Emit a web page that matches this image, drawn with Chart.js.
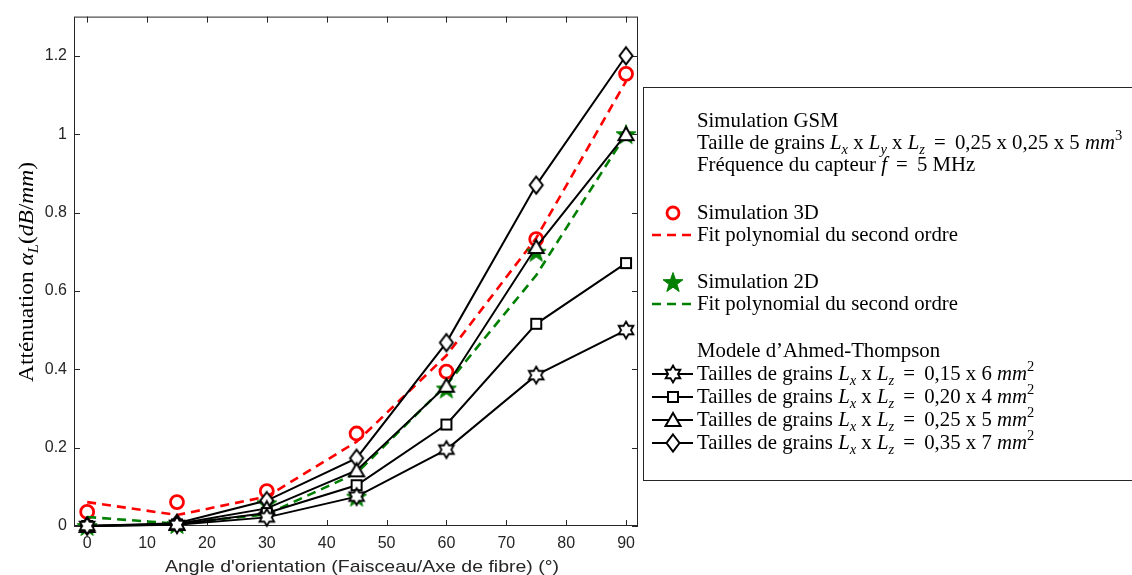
<!DOCTYPE html>
<html>
<head>
<meta charset="utf-8">
<script src="https://cdn.jsdelivr.net/npm/chart.js@4.4.1/dist/chart.umd.min.js"></script>
<style>
  html, body { margin: 0; padding: 0; background: #fff; }
  #wrap { width: 1132px; height: 575px; position: relative; }
</style>
</head>
<body>
<div id="wrap"><canvas id="chart" width="1132" height="575"></canvas></div>
<script>
// angles (degrees)
const angles = [0, 15, 30, 45, 60, 75, 90];
const xTicks = [0, 10, 20, 30, 40, 50, 60, 70, 80, 90];
const yTicks = [0, 0.2, 0.4, 0.6, 0.8, 1, 1.2];

// GSM simulations + fits
const sim3D = [0.036, 0.061, 0.089, 0.236, 0.394, 0.732, 1.154];
const fit3D = [0.061, 0.028, 0.075, 0.215, 0.435, 0.735, 1.135];
const sim2D = [0.000, 0.005, 0.058, 0.075, 0.351, 0.700, 1.000];
const fit2D = [0.023, 0.006, 0.030, 0.135, 0.360, 0.640, 1.000];

// Ahmed-Thompson model
const at015x6 = [0, 0.003, 0.022, 0.075, 0.195, 0.385, 0.500];
const at020x4 = [0, 0.004, 0.033, 0.104, 0.259, 0.516, 0.671];
const at025x5 = [0, 0.005, 0.045, 0.142, 0.358, 0.712, 1.000];
const at035x7 = [0, 0.007, 0.065, 0.173, 0.468, 0.870, 1.200];

const RED = '#ff0000';
const GREEN = '#008000';
const AXIS = '#262626';
const SERIF = '"Liberation Serif", "DejaVu Serif", serif';
const SANS = '"Liberation Sans", Arial, sans-serif';

function pts(ys) {
  return angles.map((a, i) => ({ x: a, y: ys[i] }));
}

// small canvases used as marker images
function marker(w, h, draw) {
  const c = document.createElement('canvas');
  c.width = w; c.height = h;
  const g = c.getContext('2d');
  draw(g, w / 2, h / 2);
  return c;
}
function starPath(g, cx, cy, n, ro, ri) {
  g.beginPath();
  for (let i = 0; i < 2 * n; i++) {
    const r = i % 2 ? ri : ro;
    const a = -Math.PI / 2 + i * Math.PI / n;
    const px = cx + r * Math.cos(a), py = cy + r * Math.sin(a);
    if (i === 0) g.moveTo(px, py); else g.lineTo(px, py);
  }
  g.closePath();
}

const pentagram = marker(24, 24, (g, cx, cy) => {
  starPath(g, cx, cy + 1, 5, 10.5, 4.2);
  g.fillStyle = GREEN; g.fill();
  g.strokeStyle = GREEN; g.lineWidth = 1; g.stroke();
});
const hexagram = marker(22, 22, (g, cx, cy) => {
  starPath(g, cx, cy, 6, 8.5, 4.9);
  g.fillStyle = '#fff'; g.fill();
  g.strokeStyle = '#000'; g.lineWidth = 1.8; g.stroke();
});
const square = marker(16, 16, (g, cx, cy) => {
  g.fillStyle = '#fff'; g.fillRect(cx - 5, cy - 5, 10, 10);
  g.strokeStyle = '#000'; g.lineWidth = 2; g.strokeRect(cx - 5, cy - 5, 10, 10);
});
const triangle = marker(20, 18, (g, cx, cy) => {
  g.beginPath();
  g.moveTo(cx, cy - 7); g.lineTo(cx + 7.5, cy + 6); g.lineTo(cx - 7.5, cy + 6); g.closePath();
  g.fillStyle = '#fff'; g.fill();
  g.strokeStyle = '#000'; g.lineWidth = 2; g.lineJoin = 'miter'; g.stroke();
});
const diamond = marker(18, 22, (g, cx, cy) => {
  g.beginPath();
  g.moveTo(cx, cy - 8.5); g.lineTo(cx + 6.5, cy); g.lineTo(cx, cy + 8.5); g.lineTo(cx - 6.5, cy); g.closePath();
  g.fillStyle = '#fff'; g.fill();
  g.strokeStyle = '#000'; g.lineWidth = 2; g.stroke();
});

function blackSeries(label, ys, img) {
  return {
    label, data: pts(ys), borderColor: '#000', borderWidth: 2,
    pointStyle: img, pointRadius: 7, tension: 0, clip: false
  };
}

// draw a line of text made of parts: plain / italic / sub / sup / gap
function rich(ctx, x, y, parts, fs) {
  for (const p of parts) {
    const s = typeof p === 'string' ? { t: p } : p;
    if (s.gap) { x += s.gap; continue; }
    let size = fs, dy = 0;
    if (s.sub) { size = fs * 0.7; dy = fs * 0.22; }
    if (s.sup) { size = fs * 0.7; dy = -fs * 0.42; }
    ctx.font = (s.it ? 'italic ' : '') + size + 'px ' + SERIF;
    ctx.fillText(s.t, x, y + dy);
    x += ctx.measureText(s.t).width;
  }
  return x;
}
function richWidth(ctx, parts, fs) {
  let w = 0;
  for (const p of parts) {
    const s = typeof p === 'string' ? { t: p } : p;
    if (s.gap) { w += s.gap; continue; }
    const size = (s.sub || s.sup) ? fs * 0.7 : fs;
    ctx.font = (s.it ? 'italic ' : '') + size + 'px ' + SERIF;
    w += ctx.measureText(s.t).width;
  }
  return w;
}

const Lx = [{ t: 'L', it: true }, { t: 'x', it: true, sub: true }];
const Ly = [{ t: 'L', it: true }, { t: 'y', it: true, sub: true }];
const Lz = [{ t: 'L', it: true }, { t: 'z', it: true, sub: true }];
const EQ = [{ gap: 4 }, ' = ', { gap: 4 }];
function grains(dims) {
  return ['Tailles de grains ', ...Lx, ' x ', ...Lz, ...EQ, dims + ' ', { t: 'mm', it: true }, { t: '2', sup: true }];
}

const legendRows = [
  { y: 127, parts: ['Simulation GSM'] },
  { y: 149, parts: ['Taille de grains ', ...Lx, ' x ', ...Ly, ' x ', ...Lz, ...EQ, '0,25 x 0,25 x 5 ', { t: 'mm', it: true }, { t: '3', sup: true }] },
  { y: 171, parts: ['Fréquence du capteur ', { t: 'f', it: true }, ...EQ, '5 MHz'] },
  { y: 219, parts: ['Simulation 3D'], mark: 'circle' },
  { y: 241, parts: ['Fit polynomial du second ordre'], dash: RED },
  { y: 288, parts: ['Simulation 2D'], img: pentagram },
  { y: 310, parts: ['Fit polynomial du second ordre'], dash: GREEN },
  { y: 357, parts: ['Modele d\u2019Ahmed-Thompson'] },
  { y: 380, parts: grains('0,15 x 6'), img: hexagram, line: true },
  { y: 403, parts: grains('0,20 x 4'), img: square, line: true },
  { y: 426, parts: grains('0,25 x 5'), img: triangle, line: true },
  { y: 449, parts: grains('0,35 x 7'), img: diamond, line: true }
];

const decor = {
  id: 'decor',
  beforeDatasetsDraw(chart) {
    const { ctx, chartArea: a, scales: { x, y } } = chart;
    ctx.save();
    ctx.strokeStyle = AXIS;
    ctx.lineWidth = 1;
    ctx.strokeRect(a.left + 0.5, a.top + 0.5, a.right - a.left - 1, a.bottom - a.top - 1);
    ctx.beginPath();
    xTicks.forEach(v => {
      const px = Math.round(x.getPixelForValue(v)) + 0.5;
      ctx.moveTo(px, a.bottom); ctx.lineTo(px, a.bottom - 6);
      ctx.moveTo(px, a.top); ctx.lineTo(px, a.top + 6);
    });
    yTicks.forEach(v => {
      const py = Math.round(y.getPixelForValue(v)) + 0.5;
      ctx.moveTo(a.left, py); ctx.lineTo(a.left + 6, py);
      ctx.moveTo(a.right, py); ctx.lineTo(a.right - 6, py);
    });
    ctx.stroke();
    ctx.restore();
  },
  afterDraw(chart) {
    const { ctx } = chart;
    ctx.save();
    // x title, stretched to the reference width
    ctx.fillStyle = AXIS;
    ctx.font = '17px ' + SANS;
    ctx.textAlign = 'center';
    ctx.textBaseline = 'alphabetic';
    const xt = 'Angle d\'orientation (Faisceau/Axe de fibre) (°)';
    const sxT = 394 / ctx.measureText(xt).width;
    ctx.save();
    ctx.translate(362, 572);
    ctx.scale(sxT, 1);
    ctx.fillText(xt, 0, 0);
    ctx.restore();

    // y title (rotated)
    ctx.textAlign = 'left';
    ctx.fillStyle = '#000';
    const yParts = ['Atténuation ', { t: 'α', it: true }, { t: 'L', it: true, sub: true }, '(', { t: 'dB', it: true }, '/', { t: 'mm', it: true }, ')'];
    const fsY = 21;
    const wY = richWidth(ctx, yParts, fsY);
    const syT = 220 / wY;
    ctx.save();
    ctx.translate(33, 272);
    ctx.rotate(-Math.PI / 2);
    ctx.scale(syT, 1);
    rich(ctx, -wY / 2, 0, yParts, fsY);
    ctx.restore();

    // legend box
    ctx.fillStyle = '#fff';
    ctx.fillRect(643, 87, 600, 394);
    ctx.strokeStyle = AXIS;
    ctx.lineWidth = 1;
    ctx.strokeRect(643.5, 87.5, 600, 393);
    const fs = 21;
    ctx.font = fs + 'px ' + SERIF;
    const sxL = 261 / ctx.measureText('Fit polynomial du second ordre').width;
    legendRows.forEach(r => {
      const my = r.y - 6;
      if (r.dash) {
        ctx.strokeStyle = r.dash; ctx.lineWidth = 2.6; ctx.setLineDash([9, 6]);
        ctx.beginPath(); ctx.moveTo(652, my); ctx.lineTo(694, my); ctx.stroke();
        ctx.setLineDash([]);
      }
      if (r.line) {
        ctx.strokeStyle = '#000'; ctx.lineWidth = 2;
        ctx.beginPath(); ctx.moveTo(652, my); ctx.lineTo(693, my); ctx.stroke();
      }
      if (r.mark === 'circle') {
        ctx.strokeStyle = RED; ctx.lineWidth = 2.8;
        ctx.beginPath(); ctx.arc(673, my, 6, 0, Math.PI * 2); ctx.stroke();
      }
      if (r.img) ctx.drawImage(r.img, 673 - r.img.width / 2, my - r.img.height / 2);
      ctx.fillStyle = '#000';
      ctx.save();
      ctx.translate(697, r.y);
      ctx.scale(sxL, 1);
      rich(ctx, 0, 0, r.parts, fs);
      ctx.restore();
    });
    ctx.restore();
  }
};

new Chart(document.getElementById('chart'), {
  type: 'line',
  data: {
    datasets: [
      blackSeries('0,15 x 6', at015x6, hexagram),
      blackSeries('0,20 x 4', at020x4, square),
      blackSeries('0,25 x 5', at025x5, triangle),
      blackSeries('0,35 x 7', at035x7, diamond),
      {
        label: 'Simulation 2D', data: pts(sim2D), showLine: false,
        pointStyle: pentagram, pointRadius: 10, clip: false
      },
      {
        label: 'Fit 2D', data: pts(fit2D), borderColor: GREEN, borderWidth: 2.6,
        borderDash: [9, 6], pointRadius: 0, tension: 0
      },
      {
        label: 'Simulation 3D', data: pts(sim3D), showLine: false,
        pointStyle: 'circle', pointRadius: 6.5, borderColor: RED, borderWidth: 2.8,
        backgroundColor: 'rgba(0,0,0,0)', clip: false
      },
      {
        label: 'Fit 3D', data: pts(fit3D), borderColor: RED, borderWidth: 2.6,
        borderDash: [9, 6], pointRadius: 0, tension: 0
      }
    ]
  },
  options: {
    responsive: false,
    animation: false,
    layout: { padding: { top: 14, right: 494, left: 0, bottom: 0 } },
    plugins: { legend: { display: false }, tooltip: { enabled: false } },
    scales: {
      x: {
        type: 'linear', min: -2.2, max: 92,
        afterBuildTicks: s => { s.ticks = xTicks.map(v => ({ value: v })); },
        afterFit: s => { s.height = 49; },
        grid: { display: false, drawTicks: false },
        border: { display: false },
        ticks: { color: AXIS, padding: 8, maxRotation: 0, font: { family: SANS, size: 16 } }
      },
      y: {
        type: 'linear', min: 0, max: 1.3,
        afterBuildTicks: s => { s.ticks = yTicks.map(v => ({ value: v })); },
        afterFit: s => { s.width = 74; },
        grid: { display: false, drawTicks: false },
        border: { display: false },
        ticks: { color: AXIS, padding: 7, font: { family: SANS, size: 16 },
                 callback: v => String(Math.round(v * 10) / 10) }
      }
    }
  },
  plugins: [decor]
});
</script>
</body>
</html>
